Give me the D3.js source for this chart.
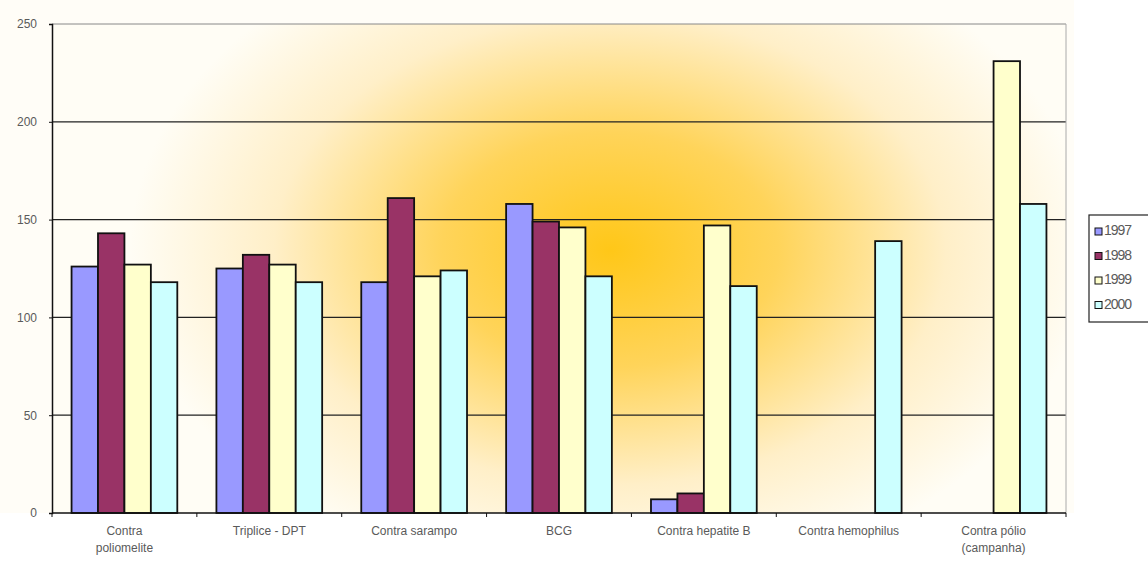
<!DOCTYPE html>
<html lang="pt">
<head>
    <meta charset="UTF-8">
    <title>Vacinas</title>
    <style>
        body { margin: 0; background: #fff; }
        text { font-family: "Liberation Sans", Arial, sans-serif; fill: #5a5a5a; }
        .axis path, .axis line { stroke: #111; }
    </style>
</head>
<body>
<svg id="chart"></svg>
<script src="https://cdnjs.cloudflare.com/ajax/libs/d3/7.8.5/d3.min.js"></script>
<script>
    var width = 1148;
    var height = 562;
    var categories = ["Contra|poliomelite", "Triplice - DPT", "Contra sarampo", "BCG",
        "Contra hepatite B", "Contra hemophilus", "Contra pólio|(campanha)"];
    var years = ["1997", "1998", "1999", "2000"];
    var v1997 = [126, 125, 118, 158, 7, null, null];
    var v1998 = [143, 132, 161, 149, 10, null, null];
    var v1999 = [127, 127, 121, 146, 147, null, 231];
    var v2000 = [118, 118, 124, 121, 116, 139, 158];
    var yTicks = [0, 50, 100, 150, 200, 250];
    var colors = ["#9999ff", "#993366", "#ffffcc", "#ccffff"];

    var series = [v1997, v1998, v1999, v2000];
    var margin = {top: 24, left: 52, right: 82, bottom: 49};
    var w = width - margin.left - margin.right;
    var h = height - margin.top - margin.bottom;

    var svg = d3.select("#chart").attr("width", width).attr("height", height);

    // background glow behind the plot
    var defs = svg.append("defs");
    var grad = defs.append("radialGradient")
        .attr("id", "glow")
        .attr("gradientUnits", "userSpaceOnUse")
        .attr("cx", 610).attr("cy", 250).attr("r", 480)
        .attr("gradientTransform", "translate(610,250) scale(1,0.7) translate(-610,-250)");
    grad.append("stop").attr("offset", "0%").attr("stop-color", "#ffc718");
    grad.append("stop").attr("offset", "35%").attr("stop-color", "#ffd45a");
    grad.append("stop").attr("offset", "70%").attr("stop-color", "#ffefc8");
    grad.append("stop").attr("offset", "100%").attr("stop-color", "#fffdf5");

    var g = svg.append("g").attr("transform", "translate(" + margin.left + "," + margin.top + ")");

    g.append("rect")
        .attr("x", -margin.left).attr("y", -margin.top)
        .attr("width", w + margin.left + 8).attr("height", h + margin.top)
        .attr("fill", "#fffdf7");
    g.append("rect")
        .attr("width", w).attr("height", h)
        .attr("fill", "url(#glow)")
        .attr("transform", "translate(" + (-margin.left) + "," + (-margin.top) + ")")
        .attr("x", margin.left).attr("y", margin.top);

    var x0 = d3.scaleBand().domain(d3.range(categories.length)).range([0, w])
        .paddingInner(0.27).paddingOuter(0.135);
    var x1 = d3.scaleBand().domain(years).range([0, x0.bandwidth()]);
    var y = d3.scaleLinear().domain([0, 250]).range([h, 0]);

    // grid lines
    g.selectAll(".grid").data(yTicks.slice(1)).enter().append("line")
        .attr("x1", 0).attr("x2", w)
        .attr("y1", function(d) { return y(d); })
        .attr("y2", function(d) { return y(d); })
        .attr("stroke", function(d) { return d === 250 ? "#888" : "#222"; })
        .attr("stroke-width", function(d) { return d === 250 ? 1 : 1.3; });
    g.append("line").attr("x1", w).attr("x2", w).attr("y1", 0).attr("y2", h)
        .attr("stroke", "#aaa");

    // bars
    var groups = g.selectAll(".grp").data(categories).enter().append("g")
        .attr("transform", function(d, i) { return "translate(" + x0(i) + ",0)"; });
    groups.selectAll("rect")
        .data(function(d, i) {
            return years.map(function(yr, k) { return {year: yr, k: k, v: series[k][i]}; })
                .filter(function(e) { return e.v != null; });
        })
        .enter().append("rect")
        .attr("x", function(d) { return x1(d.year); })
        .attr("width", x1.bandwidth())
        .attr("y", function(d) { return y(d.v); })
        .attr("height", function(d) { return h - y(d.v); })
        .attr("fill", function(d) { return colors[d.k]; })
        .attr("stroke", "#111")
        .attr("stroke-width", 1.8);

    // y axis
    var yAxis = g.append("g").attr("class", "axis")
        .call(d3.axisLeft(y).tickValues(yTicks).tickSize(3).tickPadding(12));
    yAxis.selectAll("text").style("font-size", "12px");
    yAxis.select(".domain").attr("stroke-width", 1.5);

    // x axis line and ticks between categories
    g.append("line").attr("x1", 0).attr("x2", w).attr("y1", h).attr("y2", h)
        .attr("stroke", "#111").attr("stroke-width", 1.5);
    g.selectAll(".xt").data(d3.range(categories.length + 1)).enter().append("line")
        .attr("x1", function(d) { return d * x0.step(); })
        .attr("x2", function(d) { return d * x0.step(); })
        .attr("y1", h).attr("y2", h + 4)
        .attr("stroke", "#111");

    var labels = g.selectAll(".xl").data(categories).enter().append("text")
        .attr("text-anchor", "middle")
        .attr("transform", function(d, i) { return "translate(" + (x0(i) + x0.bandwidth() / 2) + "," + (h + 22) + ")"; })
        .style("font-size", "12px");
    labels.selectAll("tspan").data(function(d) { return d.split("|"); }).enter().append("tspan")
        .attr("x", 0).attr("dy", function(d, i) { return i ? 17 : 0; })
        .text(function(d) { return d; });

    // legend
    var lg = svg.append("g").attr("transform", "translate(1089,215)");
    lg.append("rect").attr("width", 70).attr("height", 107)
        .attr("fill", "#fff").attr("stroke", "#222").attr("stroke-width", 1.2);
    var items = lg.selectAll(".li").data(years).enter().append("g")
        .attr("transform", function(d, i) { return "translate(6," + (13 + i * 24.5) + ")"; });
    items.append("rect").attr("width", 7).attr("height", 7)
        .attr("fill", function(d, i) { return colors[i]; })
        .attr("stroke", "#111");
    items.append("text").attr("x", 9).attr("y", 7)
        .style("font-size", "14px").style("letter-spacing", "-1px")
        .text(function(d) { return d; });
</script>
</body>
</html>
